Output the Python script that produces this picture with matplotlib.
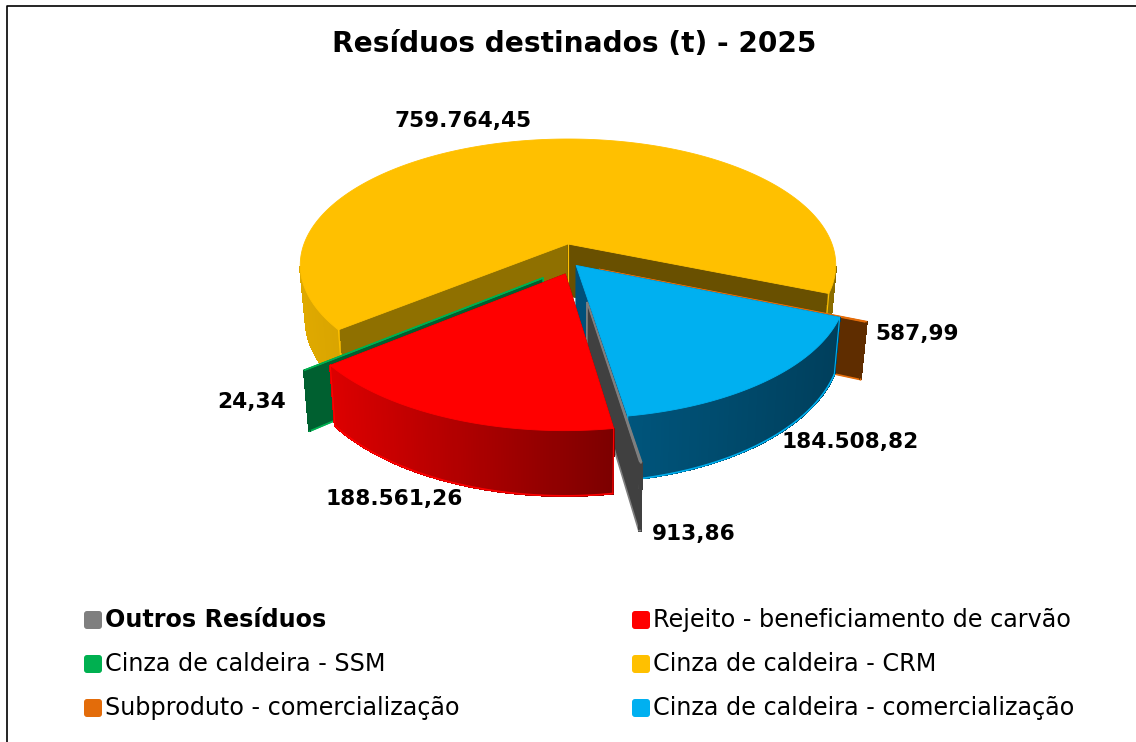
"""Pizza 3D dos resíduos destinados em 2025."""

import matplotlib
matplotlib.use("Agg")
import matplotlib.pyplot as plt
import numpy as np
from matplotlib.colors import to_rgb
from matplotlib.patches import FancyBboxPatch, Polygon

categorias = [
    "Outros Resíduos",
    "Rejeito - beneficiamento de carvão",
    "Cinza de caldeira - SSM",
    "Cinza de caldeira - CRM",
    "Subproduto - comercialização",
    "Cinza de caldeira - comercialização",
]
valores = [913.86, 188561.26, 24.34, 759764.45, 587.99, 184508.82]
titulo = "Resíduos destinados (t) - 2025"

cores = ["#7F7F7F", "#FF0000", "#00B050", "#FFC000", "#E36C0A", "#00B0F0"]
# parede inicial, parede final, lateral esquerda, lateral direita
tons = [
    ("#404040", "#404040", "#404040", "#404040"),
    ("#800000", "#800000", "#DC0000", "#7C0000"),
    ("#006030", "#006030", "#006030", "#006030"),
    ("#8F7000", "#695000", "#DFA900", "#8A6C00"),
    ("#5F2D00", "#5F2D00", "#5F2D00", "#5F2D00"),
    ("#00507A", "#00507A", "#00557C", "#003F5C"),
]
explosao = [(0.067, 0.439), (-0.01, 0.235), (-0.09, 0.265), (0.0, 0.0), (0.116, 0.202), (0.03, 0.17)]
raios = [0.95, 0.98, 0.98, 1.0, 0.98, 0.98]
ordem_desenho = [3, 4, 2, 5, 0, 1]
pos_rotulos = [(652, 534), (325, 499), (217, 402), (395, 121), (875, 334), (782, 442)]

ANGULO_INICIO = 81.0
CX, CY, RX, RY = 568, 244, 264, 122.5
PERSP = 1 / 6
ALTURA = 52
ENCOLHE = 0.02
SENO_FRENTE = 0.17


def projeta(u, v, baixo=False):
    u, v = np.asarray(u, float), np.asarray(v, float)
    s = 1 / (1 - PERSP * v)
    x = CX + RX * u * s
    y = CY + RY * v * s
    if baixo:
        x = CX + (x - CX) * (1 - ENCOLHE)
        y = y + ALTURA * s
    return x, y


def mistura(c1, c2, t):
    return tuple(a + (b - a) * t for a, b in zip(to_rgb(c1), to_rgb(c2)))


def poligono(ax, xs, ys, face, z, borda=None, lw=0.6, aa=True):
    ax.add_patch(Polygon(np.column_stack([xs, ys]), closed=True, facecolor=face,
                         edgecolor=borda if borda else face, linewidth=lw,
                         zorder=z, antialiased=aa))


def parede(ax, ox, oy, ang, raio, cor, z, borda=None):
    u = np.array([ox, ox + raio * np.cos(ang)])
    v = np.array([oy, oy + raio * np.sin(ang)])
    x1, y1 = projeta(u, v)
    x2, y2 = projeta(u[::-1], v[::-1], baixo=True)
    poligono(ax, np.r_[x1, x2], np.r_[y1, y2], cor, z, borda, 1.2 if borda else 0.6)


def desenha_fatia(ax, i, a0, a1, z):
    ox, oy = explosao[i]
    raio = raios[i]
    cor = cores[i]
    t0, t1, lat_e, lat_d = tons[i]
    ang = np.radians(np.linspace(a0, a1, max(int(a1 - a0) * 2, 2)))
    u = ox + raio * np.cos(ang)
    v = oy + raio * np.sin(ang)

    borda = cor if i in (0, 2, 4) else None
    parede(ax, ox, oy, ang[0], raio, t0, z, borda)
    parede(ax, ox, oy, ang[-1], raio, t1, z, borda)
    if i == 3:
        # CRM: fio amarelo na aresta central
        xa, ya = projeta([ox], [oy])
        xa2, ya2 = projeta([ox], [oy], baixo=True)
        ax.plot([xa[0], xa2[0]], [ya[0], ya2[0]], color=cor, lw=0.8, zorder=z)

    # lateral em degradê, feita de pequenos trechos (só a parte da frente aparece)
    xt, yt = projeta(u, v)
    xb, yb = projeta(u, v, baixo=True)
    for k in range(len(ang) - 1):
        if i == 3 and (np.sin(ang[k]) < SENO_FRENTE or np.sin(ang[k + 1]) < SENO_FRENTE):
            continue
        frac = np.clip((xt[k] - 300) / 536, 0, 1) if i == 3 else None
        if frac is None:
            frac = (xt[k] - xt.min()) / max(xt.max() - xt.min(), 1)
        c = mistura(lat_e, lat_d, frac)
        poligono(ax, [xt[k], xt[k + 1], xb[k + 1], xb[k]],
                 [yt[k], yt[k + 1], yb[k + 1], yb[k]], c, z, lw=1.0, aa=False)
    if i == 3:
        frente = np.sin(ang) >= SENO_FRENTE
        esq = frente & (np.cos(ang) < 0)
        dir_ = frente & (np.cos(ang) >= 0)
        ax.plot(xb[esq], yb[esq], color=lat_e, lw=1.2, zorder=z)
        ax.plot(xb[dir_], yb[dir_], color=lat_d, lw=1.2, zorder=z)
    else:
        ax.plot(xb, yb, color=cor, lw=1.2, solid_capstyle="round", zorder=z)
    if i in (1, 3, 5):
        for k in (0, -1):
            ax.plot([xt[k], xb[k]], [yt[k], yb[k]], color=cor, lw=0.8, zorder=z)

    # tampo
    xa, ya = projeta(ox, oy)
    poligono(ax, np.r_[xa, xt], np.r_[ya, yt], cor, z)


fig = plt.figure(figsize=(11.36, 7.42), dpi=100, facecolor="white")
ax = fig.add_axes([0, 0, 1, 1])
ax.set_xlim(0, 1136)
ax.set_ylim(742, 0)
ax.axis("off")

# moldura: só esquerda e topo aparecem no recorte
ax.plot([7, 7, 1136], [742, 5.5, 5.5], color="black", lw=1.2)

ax.text(574.5, 44, titulo, ha="center", va="center", fontsize=20.2, fontweight="bold")

spans = np.array(valores) / sum(valores) * 360
inicios = ANGULO_INICIO + np.r_[0, np.cumsum(spans)[:-1]]
for z, i in enumerate(ordem_desenho):
    desenha_fatia(ax, i, inicios[i], inicios[i] + spans[i], z + 2)

for (x, y), val in zip(pos_rotulos, valores):
    txt = f"{val:,.2f}".replace(",", "#").replace(".", ",").replace("#", ".")
    ax.text(x, y, txt, ha="left", va="center", fontsize=15.6, fontweight="bold", zorder=20)

# legenda em duas colunas
col_x = [84, 632]
lin_y = [620, 664, 708]
for i, nome in enumerate(categorias):
    x0 = col_x[i % 2]
    y0 = lin_y[i // 2]
    ax.add_patch(FancyBboxPatch((x0 + 2, y0 - 7), 14, 14, boxstyle="round,pad=2,rounding_size=3",
                                facecolor=cores[i], edgecolor="none"))
    ax.text(x0 + 21, y0, nome, ha="left", va="center", fontsize=17.2,
            fontweight="bold" if i == 0 else "normal")

fig.savefig("out.png", dpi=100)
